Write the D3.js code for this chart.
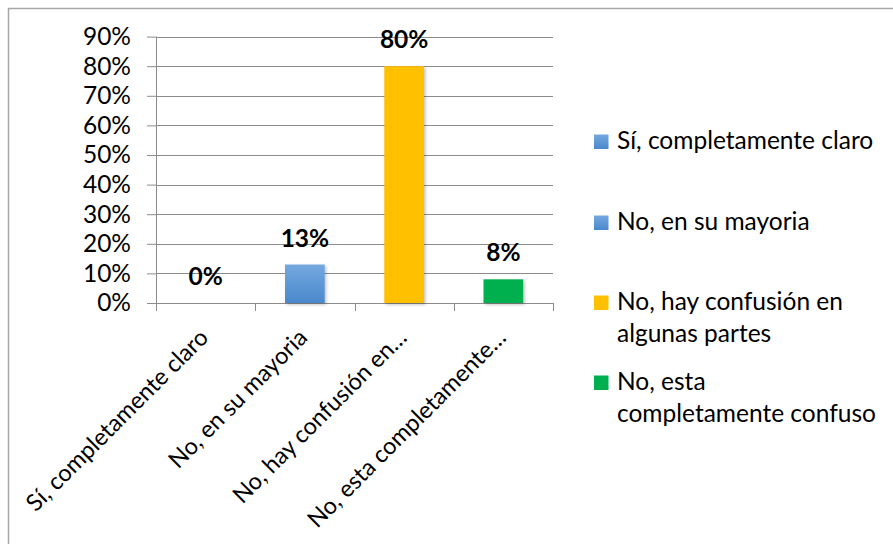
<!DOCTYPE html>
<html>
<head>
<meta charset="utf-8">
<script src="https://cdn.jsdelivr.net/npm/d3@7"></script>
<style>
  html, body { margin: 0; padding: 0; background: #fff; }
  svg { display: block; font-family: Lato, "Open Sans", sans-serif; }
</style>
</head>
<body>
<svg id="chart" width="893" height="544"></svg>
<script>
// Survey answers and their shares
const categories = [
  "Sí, completamente claro",
  "No, en su mayoria",
  "No, hay confusión en algunas partes",
  "No, esta completamente confuso"
];
const values = [0.00, 0.13, 0.80, 0.08];
const valueLabels = ["0%", "13%", "80%", "8%"];
// Category axis text as shown under the axis (long names are shortened)
const axisLabels = [
  "Sí, completamente claro",
  "No, en su mayoria",
  "No, hay confusión en…",
  "No, esta completamente…"
];
// Legend text, wrapped into lines
const legendLines = [
  ["Sí, completamente claro"],
  ["No, en su mayoria"],
  ["No, hay confusión en", "algunas partes"],
  ["No, esta", "completamente confuso"]
];
const yTicks = [0, 0.1, 0.2, 0.3, 0.4, 0.5, 0.6, 0.7, 0.8, 0.9];
const fills = ["url(#blueGrad)", "url(#blueGrad)", "#FFC000", "#00B050"];

const svg = d3.select("#chart");
const gridColor = "#8c8c8c";
const fontSize = 24.5;

// Definitions: blue gradient and a soft shadow for the columns
const defs = svg.append("defs");
const grad = defs.append("linearGradient").attr("id", "blueGrad")
  .attr("x1", 0).attr("y1", 0).attr("x2", 0).attr("y2", 1);
grad.append("stop").attr("offset", "0%").attr("stop-color", "#74A8DF");
grad.append("stop").attr("offset", "100%").attr("stop-color", "#4A88CC");
const shadow = defs.append("filter").attr("id", "shadow")
  .attr("x", "-20%").attr("y", "-20%").attr("width", "150%").attr("height", "150%");
shadow.append("feDropShadow").attr("dx", 1.5).attr("dy", 1.5)
  .attr("stdDeviation", 1.5).attr("flood-color", "#000").attr("flood-opacity", 0.25);

// Outer frame of the chart area
svg.append("path")
  .attr("d", "M8.5,544 V8.5 H893")
  .attr("fill", "none").attr("stroke", "#a6a6a6").attr("stroke-width", 1.5);

const plot = { left: 156, right: 553, top: 36.6, bottom: 303 };

const x = d3.scaleBand()
  .domain(categories)
  .range([plot.left, plot.right])
  .paddingInner(0.6)
  .paddingOuter(0.3);

const y = d3.scaleLinear()
  .domain([0, 0.9])
  .range([plot.bottom, plot.top]);

// Horizontal gridlines
svg.append("g")
  .selectAll("line")
  .data(yTicks.filter(d => d > 0))
  .join("line")
  .attr("x1", plot.left).attr("x2", plot.right)
  .attr("y1", d => Math.round(y(d)) + 0.5).attr("y2", d => Math.round(y(d)) + 0.5)
  .attr("stroke", gridColor).attr("stroke-width", 1);

// Value axis
const yAxis = d3.axisLeft(y)
  .tickValues(yTicks)
  .tickFormat(d3.format(".0%"))
  .tickSize(9)
  .tickPadding(16);
const gy = svg.append("g")
  .attr("transform", `translate(${plot.left},0)`)
  .call(yAxis);
gy.select(".domain").attr("stroke", gridColor).attr("d", `M0.5,${plot.top}V${plot.bottom}`);
gy.selectAll(".tick line").attr("stroke", gridColor);
gy.selectAll(".tick text")
  .attr("font-size", fontSize).attr("fill", "#000")
  .attr("font-family", "Lato, sans-serif");

// Category axis line and boundary ticks
const bounds = categories.map(c => x(c) - x.step() * x.paddingInner() / 2)
  .concat([plot.right]);
bounds[0] = plot.left;
svg.append("line")
  .attr("x1", plot.left).attr("x2", plot.right)
  .attr("y1", plot.bottom + 0.5).attr("y2", plot.bottom + 0.5)
  .attr("stroke", gridColor);
svg.append("g").selectAll("line")
  .data(bounds)
  .join("line")
  .attr("x1", d => Math.round(d) + 0.5).attr("x2", d => Math.round(d) + 0.5)
  .attr("y1", plot.bottom).attr("y2", plot.bottom + 8)
  .attr("stroke", gridColor);

// Columns
svg.append("g")
  .selectAll("rect")
  .data(values)
  .join("rect")
  .attr("x", (d, i) => x(categories[i]))
  .attr("width", x.bandwidth())
  .attr("y", d => y(d))
  .attr("height", d => y(0) - y(d))
  .attr("fill", (d, i) => fills[i])
  .attr("filter", "url(#shadow)");

// Value labels above the columns
svg.append("g")
  .selectAll("text")
  .data(values)
  .join("text")
  .attr("x", (d, i) => x(categories[i]) + x.bandwidth() / 2)
  .attr("y", d => y(d) - 18)
  .attr("text-anchor", "middle")
  .attr("font-size", fontSize)
  .attr("font-weight", "bold")
  .attr("fill", "#000")
  .text((d, i) => valueLabels[i]);

// Rotated category labels
svg.append("g")
  .selectAll("text")
  .data(axisLabels)
  .join("text")
  .attr("transform", (d, i) => {
    const cx = x(categories[i]) + x.bandwidth() / 2;
    return `translate(${cx + 4},${plot.bottom + 36}) rotate(-45)`;
  })
  .attr("text-anchor", "end")
  .attr("font-size", 23.5)
  .attr("fill", "#000")
  .text(d => d);

// Legend
const legendTop = [149, 230, 310, 390];
const lineGap = 32;
const lg = svg.append("g");
legendLines.forEach((lines, i) => {
  const g = lg.append("g");
  g.append("rect")
    .attr("x", 594).attr("y", legendTop[i] - 14.5)
    .attr("width", 14.5).attr("height", 14.5)
    .attr("fill", fills[i]);
  g.selectAll("text")
    .data(lines)
    .join("text")
    .attr("x", 617)
    .attr("y", (d, j) => legendTop[i] + j * lineGap)
    .attr("font-size", fontSize)
    .attr("fill", "#000")
    .text(d => d);
});
</script>
</body>
</html>
